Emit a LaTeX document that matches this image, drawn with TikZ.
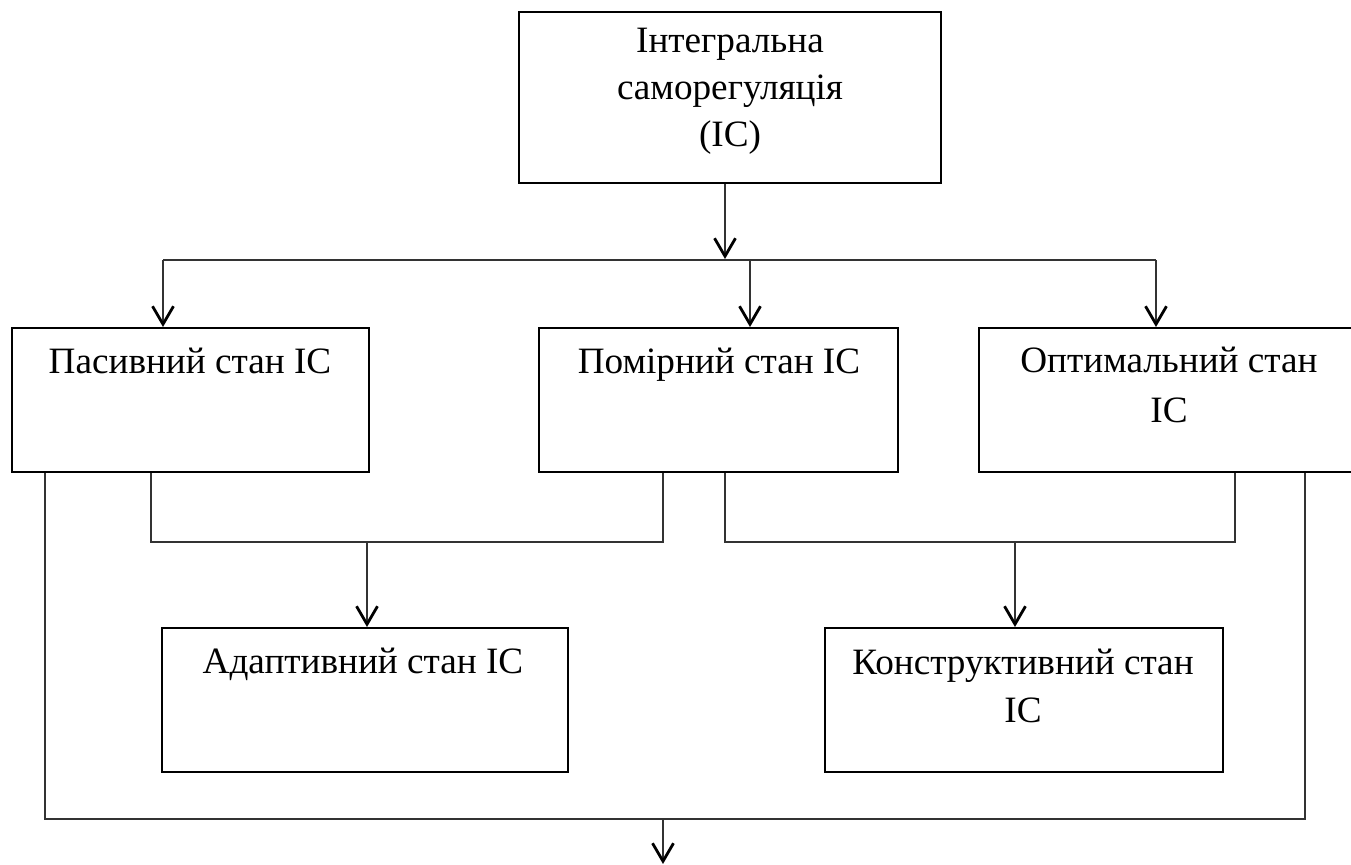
\documentclass[tikz,border=0pt]{standalone}
\usepackage{fontspec}
\setmainfont{Liberation Serif}
\usetikzlibrary{arrows.meta}
\begin{document}
\begin{tikzpicture}[x=0.5pt,y=-0.5pt,
  box/.style={draw=black,line width=1pt,rectangle,inner sep=0pt,minimum height=72pt},
  lbl/.style={anchor=base,inner sep=0pt,font=\fontsize{18.6}{24}\selectfont},
  conn/.style={draw=black!80,line width=0.6pt},
  arr/.style={conn,-{Straight Barb[length=9pt,width=10.5pt,line width=1.4pt,color=black]}}]
\useasboundingbox (0,0) rectangle (1351,865);
% boxes
\node[box,minimum width=211pt,minimum height=85.5pt] (top) at (730,97.5) {};
\node[box,minimum width=178.5pt] (pas) at (190.5,400) {};
\node[box,minimum width=179.5pt] (pom) at (718.5,400) {};
\node[box,minimum width=190.5pt] (opt) at (1169.5,400) {};
\node[box,minimum width=203pt] (ada) at (365,700) {};
\node[box,minimum width=199pt] (kon) at (1024,700) {};
% texts
\node[lbl] (t1) at (730,53) {Інтегральна};
\node[lbl] (t2) at (730,100) {саморегуляція};
\node[lbl] (t3) at (730,147) {(ІС)};
\node[lbl] (tp) at (190,374) {Пасивний стан ІС};
\node[lbl] (tm) at (719,374) {Помірний стан ІС};
\node[lbl] (to1) at (1169,373) {Оптимальний стан};
\node[lbl] (to2) at (1169,423) {ІС};
\node[lbl] (ta) at (363,674) {Адаптивний стан ІС};
\node[lbl] (tk1) at (1023,675) {Конструктивний стан};
\node[lbl] (tk2) at (1023,723) {ІС};
% junction points
\coordinate (hA) at (725,259);
\coordinate (hL) at (163,260);
\coordinate (hM) at (750,260);
\coordinate (hR) at (1156,260);
\coordinate (aL) at (151,542);
\coordinate (aR) at (663,542);
\coordinate (aM) at (367,542);
\coordinate (kL) at (725,542);
\coordinate (kR) at (1235,542);
\coordinate (kM) at (1015,542);
\coordinate (bL) at (45,819);
\coordinate (bR) at (1305,819);
\coordinate (bM) at (663,819);
\coordinate (out) at (663,864);
% connectors
\draw[arr] (top.south -| hA) -- (hA);
\draw[conn] (hL) -- (hR);
\draw[arr] (hL) -- (pas.north -| hL);
\draw[arr] (hM) -- (pom.north -| hM);
\draw[arr] (hR) -- (opt.north -| hR);
\draw[conn] (pas.south -| aL) -- (aL) -- (aR) -- (pom.south -| aR);
\draw[arr] (aM) -- (ada.north -| aM);
\draw[conn] (pom.south -| kL) -- (kL) -- (kR) -- (opt.south -| kR);
\draw[arr] (kM) -- (kon.north -| kM);
\draw[conn] (pas.south -| bL) -- (bL) -- (bR) -- (opt.south -| bR);
\draw[arr] (bM) -- (out);
\end{tikzpicture}
\end{document}
